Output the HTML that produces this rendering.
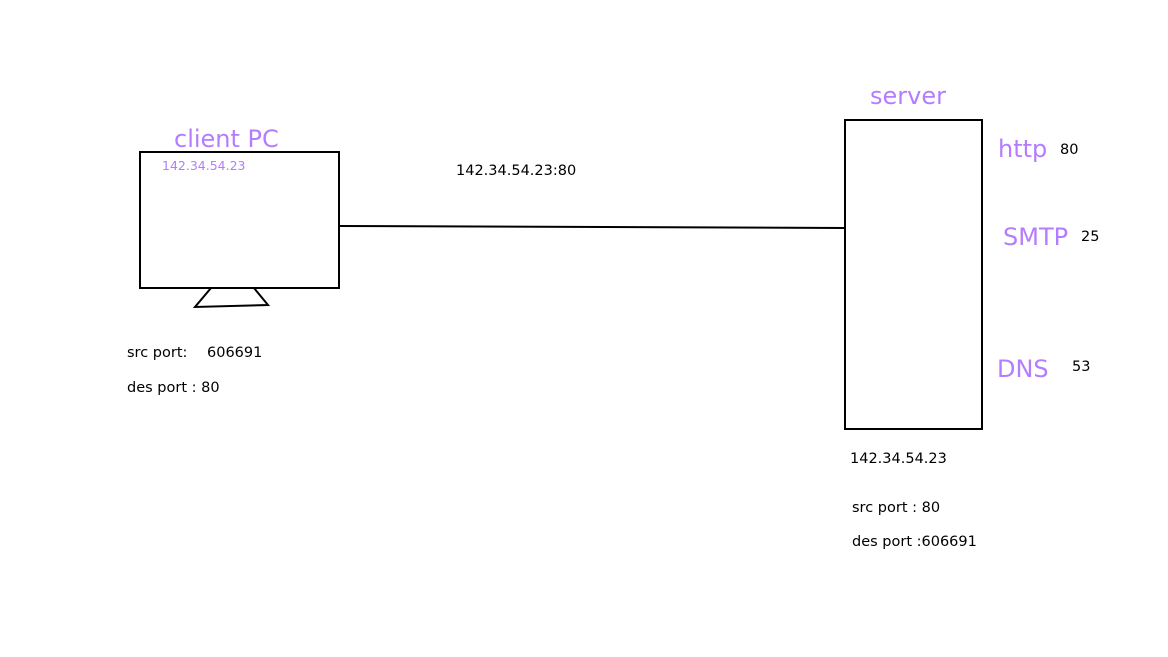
<!DOCTYPE html>
<html><head><style>
html,body{margin:0;padding:0;background:#fff;}
body{width:1168px;height:657px;position:relative;overflow:hidden;font-family:"DejaVu Sans","Liberation Sans",sans-serif;}
.t{position:absolute;white-space:nowrap;line-height:1;}
.p{color:#b57cff;}
.b{color:#000;font-size:14.5px;}
</style></head><body>
<svg width="1168" height="657" style="position:absolute;left:0;top:0">
<rect x="140" y="152" width="199" height="136" fill="none" stroke="#000" stroke-width="2"/>
<polyline points="211,288 195,307 268,305 254,288" fill="none" stroke="#000" stroke-width="2"/>
<line x1="339" y1="226" x2="845" y2="228" stroke="#000" stroke-width="2"/>
<rect x="845" y="120" width="137" height="309" fill="none" stroke="#000" stroke-width="2"/>
</svg>
<div class="t p" style="left:174px;top:127px;font-size:24px">client PC</div>
<div class="t p" style="left:162px;top:160px;font-size:12.5px">142.34.54.23</div>
<div class="t b" style="left:456px;top:164px">142.34.54.23:80</div>
<div class="t p" style="left:870px;top:84px;font-size:24px">server</div>
<div class="t p" style="left:998px;top:137px;font-size:24px">http</div>
<div class="t b" style="left:1060px;top:143px">80</div>
<div class="t p" style="left:1003px;top:225px;font-size:24px">SMTP</div>
<div class="t b" style="left:1081px;top:230px">25</div>
<div class="t p" style="left:997px;top:357px;font-size:24px">DNS</div>
<div class="t b" style="left:1072px;top:360px">53</div>
<div class="t b" style="left:127px;top:346px">src port:</div>
<div class="t b" style="left:207px;top:346px">606691</div>
<div class="t b" style="left:127px;top:381px">des port : 80</div>
<div class="t b" style="left:850px;top:452px">142.34.54.23</div>
<div class="t b" style="left:852px;top:501px">src port : 80</div>
<div class="t b" style="left:852px;top:535px">des port :606691</div>
</body></html>
